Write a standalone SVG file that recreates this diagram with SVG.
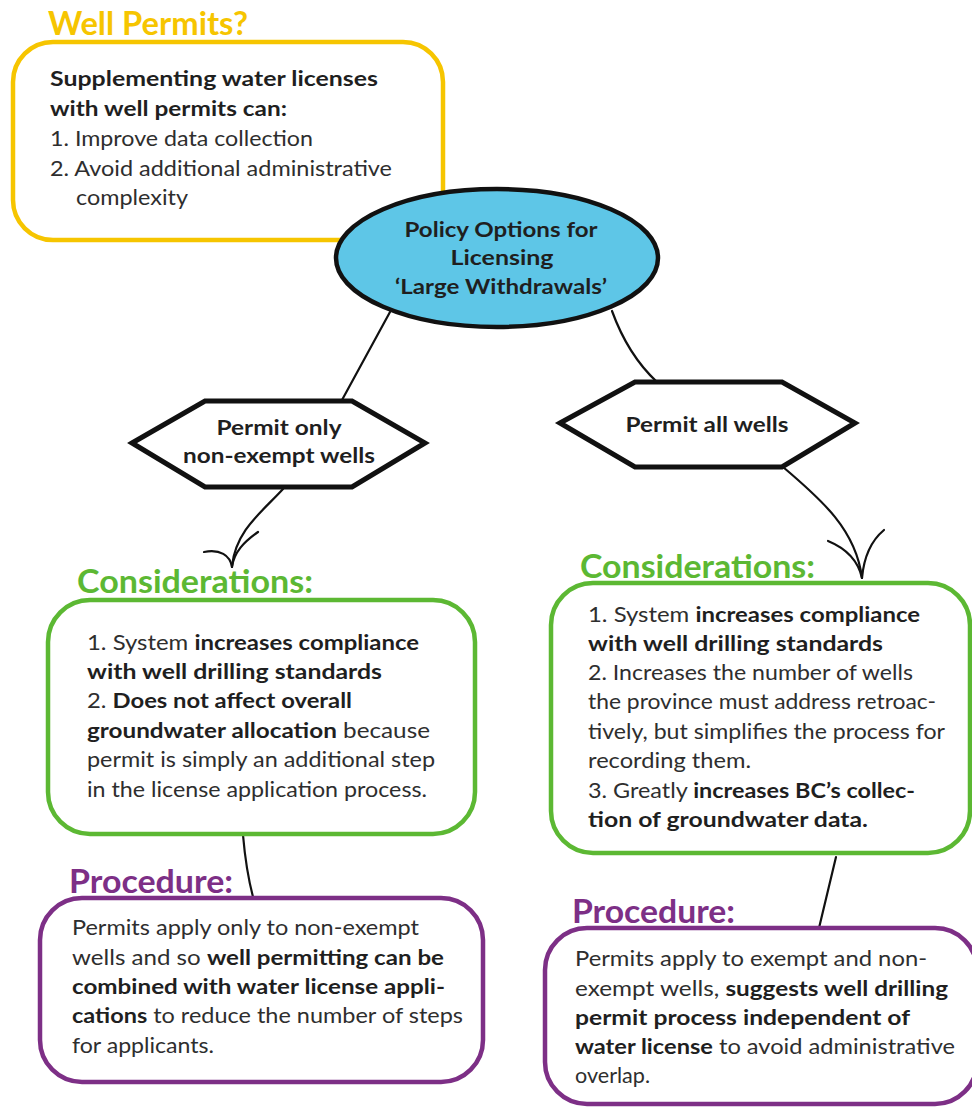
<svg xmlns="http://www.w3.org/2000/svg" width="972" height="1107" viewBox="0 0 972 1107">
  <style>
    .t { font-family: Lato, "Open Sans", "Liberation Sans", sans-serif; font-size: 20.5px; fill: #2e2e2e; }
    .b { font-weight: 700; fill: #1f1f1f; }
    .title { font-family: Lato, "Open Sans", "Liberation Sans", sans-serif; font-size: 33px; font-weight: 700; }
    .node-t { font-family: Lato, "Open Sans", "Liberation Sans", sans-serif; font-size: 21px; font-weight: 700; fill: #1f1f1f; text-anchor: middle; }
    .yellow { fill: #ffffff; stroke: #f6c500; stroke-width: 4.5; }
    .green { fill: #ffffff; stroke: #5cb833; stroke-width: 4.5; }
    .purple { fill: #ffffff; stroke: #7d2f86; stroke-width: 4.5; }
    .hex { fill: #ffffff; stroke: #111111; stroke-width: 5; stroke-linejoin: miter; }
    .link { fill: none; stroke: #111111; stroke-width: 2.2; stroke-linecap: round; }
  </style>

  <!-- connectors -->
  <g id="connectors">
    <path class="link" d="M390,312 L342,400"/>
    <path class="link" d="M612,311 Q628,355 657,382"/>
    <!-- left branch, curved arrow into Considerations -->
    <path class="link" d="M283,489 C262,512 236,530 232,566"/>
    <path class="link" d="M204,552 C220,549 230,555 232,567"/>
    <path class="link" d="M258,532 C244,542 234,552 232,567"/>
    <!-- right branch, curved arrow into Considerations -->
    <path class="link" d="M783,467 C822,500 856,530 862,578"/>
    <path class="link" d="M828,541 C845,548 858,560 862,578"/>
    <path class="link" d="M884,530 C872,540 864,556 862,578"/>
    <!-- Considerations to Procedure -->
    <path class="link" d="M243,835 Q246,870 253,897"/>
    <path class="link" d="M836,857 L819,928"/>
  </g>

  <!-- Well Permits? note -->
  <g id="well-permits">
    <text class="title" x="48" y="35" fill="#f6c500" textLength="200" lengthAdjust="spacingAndGlyphs">Well Permits?</text>
    <rect class="yellow" x="13" y="42" width="430" height="198" rx="40" ry="40"/>
    <text class="t b" x="50" y="86" textLength="328" lengthAdjust="spacingAndGlyphs">Supplementing water licenses</text>
    <text class="t b" x="50" y="116" textLength="237" lengthAdjust="spacingAndGlyphs">with well permits can:</text>
    <text class="t" x="50" y="146" textLength="263" lengthAdjust="spacingAndGlyphs">1. Improve data collection</text>
    <text class="t" x="50" y="176" textLength="342" lengthAdjust="spacingAndGlyphs">2. Avoid additional administrative</text>
    <text class="t" x="76" y="205" textLength="112" lengthAdjust="spacingAndGlyphs">complexity</text>
  </g>

  <!-- central policy ellipse -->
  <g id="policy">
    <ellipse cx="497" cy="258" rx="161" ry="69" fill="#5ec6e7" stroke="#111111" stroke-width="4.5"/>
    <text class="node-t" x="501" y="237" font-size="22" textLength="193" lengthAdjust="spacingAndGlyphs">Policy Options for</text>
    <text class="node-t" x="502" y="265" font-size="22" textLength="103" lengthAdjust="spacingAndGlyphs">Licensing</text>
    <text class="node-t" x="501" y="294" font-size="22" textLength="212" lengthAdjust="spacingAndGlyphs">‘Large Withdrawals’</text>
  </g>

  <!-- option: permit only non-exempt wells -->
  <g id="opt-nonexempt">
    <polygon class="hex" points="132,443 205,401 352,401 425,443 352,487 205,487"/>
    <text class="node-t" x="279" y="435" textLength="125" lengthAdjust="spacingAndGlyphs">Permit only</text>
    <text class="node-t" x="279" y="463" textLength="192" lengthAdjust="spacingAndGlyphs">non-exempt wells</text>
  </g>

  <!-- option: permit all wells -->
  <g id="opt-all">
    <polygon class="hex" points="560,423 635,382 782,382 855,423 782,467 635,467"/>
    <text class="node-t" x="707" y="432" textLength="163" lengthAdjust="spacingAndGlyphs">Permit all wells</text>
  </g>

  <!-- considerations, left -->
  <g id="considerations-left">
    <text class="title" x="77" y="593" fill="#5cb833" textLength="236" lengthAdjust="spacingAndGlyphs">Considerations:</text>
    <rect class="green" x="48" y="600" width="427" height="234" rx="42" ry="42"/>
    <text class="t" x="87" y="650" textLength="332" lengthAdjust="spacingAndGlyphs">1. System <tspan class="b">increases compliance</tspan></text>
    <text class="t b" x="87" y="679" textLength="295" lengthAdjust="spacingAndGlyphs">with well drilling standards</text>
    <text class="t" x="87" y="708" textLength="265" lengthAdjust="spacingAndGlyphs">2. <tspan class="b">Does not affect overall</tspan></text>
    <text class="t" x="87" y="738" textLength="343" lengthAdjust="spacingAndGlyphs"><tspan class="b">groundwater allocation</tspan> because</text>
    <text class="t" x="87" y="767" textLength="348" lengthAdjust="spacingAndGlyphs">permit is simply an additional step</text>
    <text class="t" x="87" y="797" textLength="340" lengthAdjust="spacingAndGlyphs">in the license application process.</text>
  </g>

  <!-- considerations, right -->
  <g id="considerations-right">
    <text class="title" x="580" y="578" fill="#5cb833" textLength="235" lengthAdjust="spacingAndGlyphs">Considerations:</text>
    <rect class="green" x="551" y="583" width="419" height="270" rx="42" ry="42"/>
    <text class="t" x="588" y="622" textLength="332" lengthAdjust="spacingAndGlyphs">1. System <tspan class="b">increases compliance</tspan></text>
    <text class="t b" x="588" y="651" textLength="295" lengthAdjust="spacingAndGlyphs">with well drilling standards</text>
    <text class="t" x="588" y="680" textLength="325" lengthAdjust="spacingAndGlyphs">2. Increases the number of wells</text>
    <text class="t" x="588" y="709" textLength="348" lengthAdjust="spacingAndGlyphs">the province must address retroac-</text>
    <text class="t" x="588" y="739" textLength="357" lengthAdjust="spacingAndGlyphs">tively, but simplifies the process for</text>
    <text class="t" x="588" y="768" textLength="163" lengthAdjust="spacingAndGlyphs">recording them.</text>
    <text class="t" x="588" y="798" textLength="327" lengthAdjust="spacingAndGlyphs">3. Greatly <tspan class="b">increases BC’s collec-</tspan></text>
    <text class="t b" x="588" y="827" textLength="280" lengthAdjust="spacingAndGlyphs">tion of groundwater data.</text>
  </g>

  <!-- procedure, left -->
  <g id="procedure-left">
    <text class="title" x="69" y="893" fill="#7d2f86" textLength="164" lengthAdjust="spacingAndGlyphs">Procedure:</text>
    <rect class="purple" x="40" y="898" width="443" height="184" rx="42" ry="42"/>
    <text class="t" x="72" y="935" textLength="347" lengthAdjust="spacingAndGlyphs">Permits apply only to non-exempt</text>
    <text class="t" x="72" y="965" textLength="372" lengthAdjust="spacingAndGlyphs">wells and so <tspan class="b">well permitting can be</tspan></text>
    <text class="t b" x="72" y="994" textLength="373" lengthAdjust="spacingAndGlyphs">combined with water license appli-</text>
    <text class="t" x="72" y="1023" textLength="391" lengthAdjust="spacingAndGlyphs"><tspan class="b">cations</tspan> to reduce the number of steps</text>
    <text class="t" x="72" y="1053" textLength="142" lengthAdjust="spacingAndGlyphs">for applicants.</text>
  </g>

  <!-- procedure, right -->
  <g id="procedure-right">
    <text class="title" x="572" y="923" fill="#7d2f86" textLength="163" lengthAdjust="spacingAndGlyphs">Procedure:</text>
    <rect class="purple" x="545" y="928" width="432" height="176" rx="42" ry="42"/>
    <text class="t" x="575" y="966" textLength="352" lengthAdjust="spacingAndGlyphs">Permits apply to exempt and non-</text>
    <text class="t" x="575" y="996" textLength="373" lengthAdjust="spacingAndGlyphs">exempt wells, <tspan class="b">suggests well drilling</tspan></text>
    <text class="t b" x="575" y="1025" textLength="335" lengthAdjust="spacingAndGlyphs">permit process independent of</text>
    <text class="t" x="575" y="1054" textLength="380" lengthAdjust="spacingAndGlyphs"><tspan class="b">water license</tspan> to avoid administrative</text>
    <text class="t" x="575" y="1083" textLength="75" lengthAdjust="spacingAndGlyphs">overlap.</text>
  </g>
</svg>
